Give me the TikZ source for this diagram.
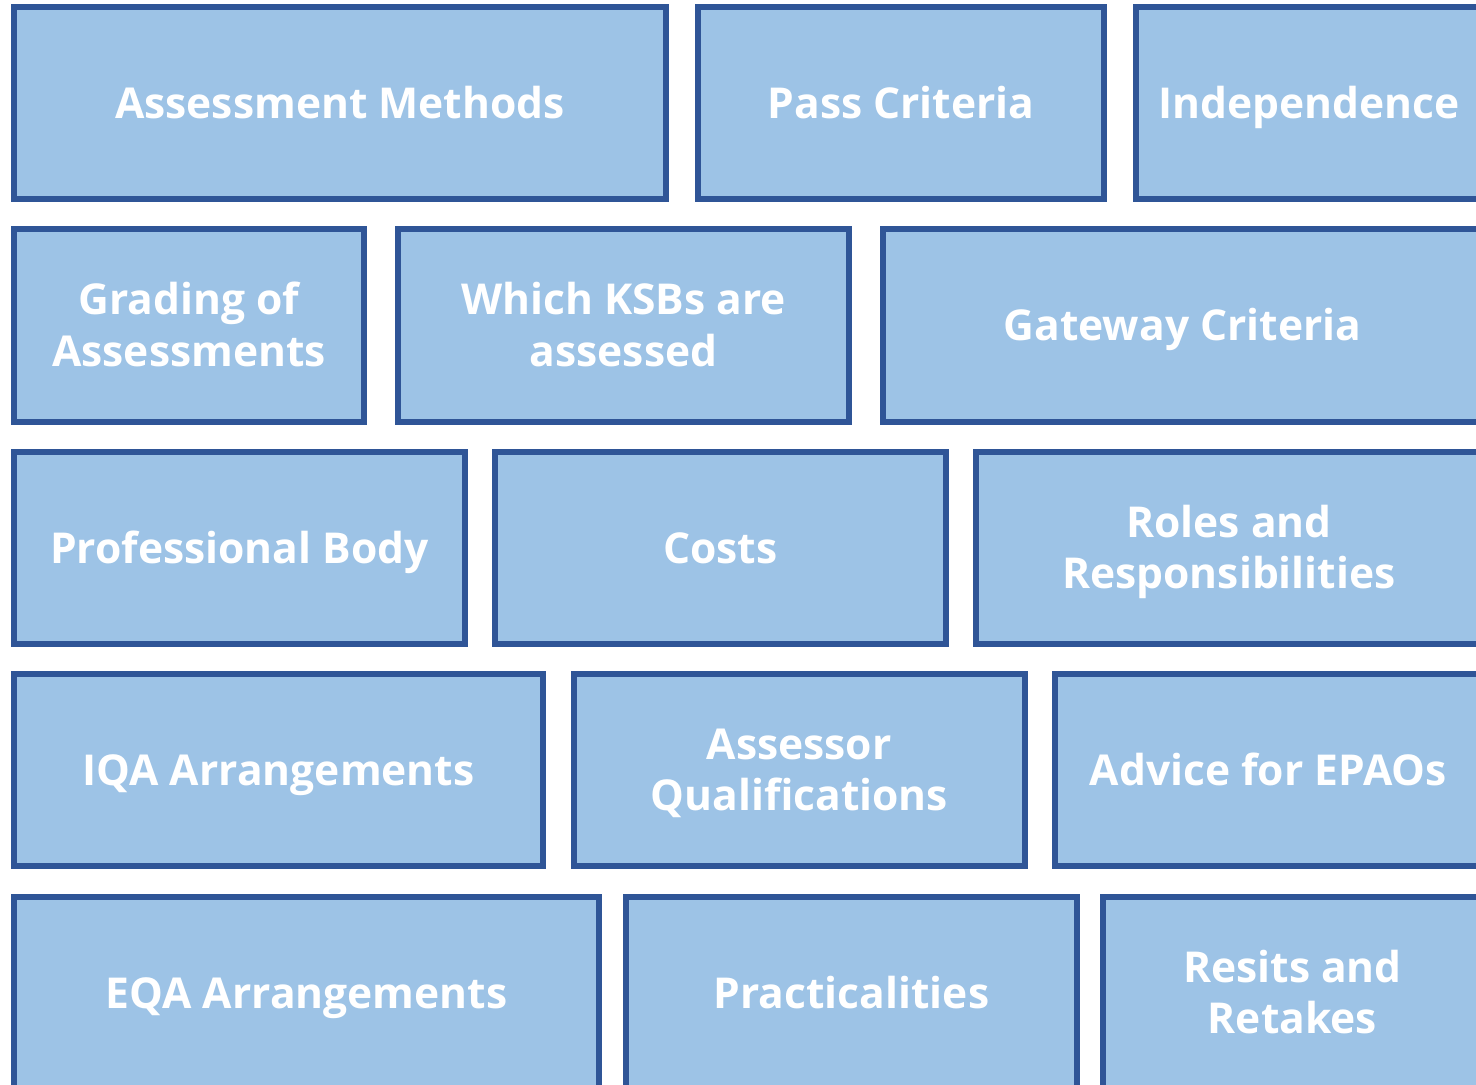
\documentclass[tikz,border=0pt]{standalone}
\usepackage{fontspec}
\setmainfont{Open Sans}
\usetikzlibrary{positioning}
\definecolor{brickfill}{HTML}{9DC3E6}
\definecolor{brickline}{HTML}{2F5597}
\tikzset{
    brick/.style={
        rectangle,
        fill=brickfill,
        draw=brickline, line width=1.7pt,
        inner sep=0pt,
        minimum height=1.92cm,
        align=center,
        text=white,
        text height=8.6pt, text depth=0pt,
        font={\fontsize{12.1pt}{14.6pt}\selectfont\bfseries}
    },
    brick one/.style={},
    brick two/.style={text height=23.2pt},
}
\begin{document}
\begin{tikzpicture}[x=0.01cm, y=-0.01cm]

\useasboundingbox (0,0) rectangle (1476,1084);
\clip (0,0) rectangle (1476,1084);

% left edge / right edge / row centre / lines / text
\foreach \xa/\xb/\yc/\s/\txt [count=\i] in {
    14/666/103/one/{Assessment Methods},
    698/1104/103/one/{Pass Criteria},
    1136/1482/103/one/{Independence},
    14/364/325.5/two/{Grading of\\Assessments},
    398/849/325.5/two/{Which KSBs are\\assessed},
    883/1482/325.5/one/{Gateway Criteria},
    14/465/548/one/{Professional Body},
    495/946/548/one/{Costs},
    976/1482/548/two/{Roles and\\Responsibilities},
    14/543/770/one/{IQA Arrangements},
    574/1024.5/770/two/{Assessor\\Qualifications},
    1054.5/1482/770/one/{Advice for EPAOs},
    14/599/993/one/{EQA Arrangements},
    626/1077/993/one/{Practicalities},
    1103/1482/993/two/{Resits and\\Retakes}}
  \node [brick, brick \s, minimum width={(\xb-\xa)*0.01cm}] (brick-\i)
    at ({(\xa+\xb)/2}, \yc) {\txt};

\end{tikzpicture}
\end{document}
